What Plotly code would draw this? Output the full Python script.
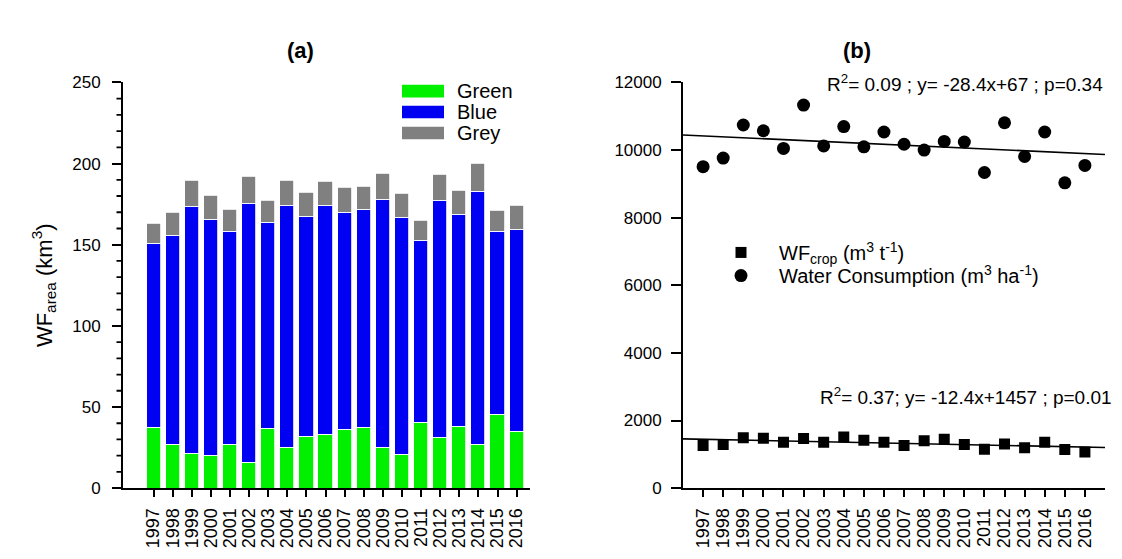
import numpy as np
import plotly.graph_objects as go

# ---- data -------------------------------------------------------------
years = list(range(1997, 2017))

# (a) water footprint of the cropped area, km3
green = [37.5, 27.0, 21.4, 20.0, 27.0, 16.1, 36.7, 25.0, 32.0, 33.0,
         36.1, 37.3, 25.0, 20.8, 40.3, 31.4, 38.3, 27.0, 45.2, 34.7]
blue = [113.5, 129.0, 152.2, 145.3, 131.1, 159.1, 127.0, 149.2, 135.7, 141.2,
        134.1, 134.3, 153.2, 145.9, 112.5, 146.2, 130.4, 156.1, 112.7, 125.0]
grey = [11.9, 14.2, 15.9, 15.1, 13.5, 16.7, 13.9, 15.3, 14.3, 14.9,
        15.3, 14.3, 15.7, 15.0, 12.3, 15.7, 14.8, 17.3, 13.1, 14.5]

# (b) unit water footprint (m3/t) and water consumption (m3/ha)
wf_crop = [1261, 1289, 1494, 1474, 1355, 1466, 1355, 1510, 1419, 1355,
           1261, 1400, 1447, 1289, 1151, 1308, 1198, 1355, 1143, 1068]
water_cons = [9507, 9763, 10741, 10570, 10048, 11330, 10123, 10693, 10095, 10533,
              10171, 10000, 10256, 10237, 9336, 10807, 9809, 10533, 9031, 9544]

year_labels = [str(y) for y in years]
left_minor_ticks = [v for v in range(0, 251, 10) if v % 50 != 0]

# ---- styling ------------------------------------------------------------
FONT = "Liberation Sans, Arial, sans-serif"
C_GREEN = "#00F000"
C_BLUE = "#0000F2"
C_GREY = "#808080"
W, H = 1122, 559


def px_x(p):
    return p / W


def px_y(p):
    return 1 - p / H


fig = go.Figure()

# stacked bars (a)
for name, vals, col in [("Green", green, C_GREEN), ("Blue", blue, C_BLUE), ("Grey", grey, C_GREY)]:
    fig.add_trace(go.Bar(
        x=years, y=vals, name=name, width=0.74,
        marker=dict(color=col, line=dict(color="white", width=0.8)),
        xaxis="x", yaxis="y", showlegend=False,
    ))

# linear trends (b), fitted on the year index
x_fit = np.array([1996.0, 2017.0])
for series in (water_cons, wf_crop):
    k, b = np.polyfit(np.array(years, dtype=float), np.array(series, dtype=float), 1)
    fig.add_trace(go.Scatter(
        x=x_fit, y=k * x_fit + b, mode="lines",
        line=dict(color="black", width=1.6),
        xaxis="x2", yaxis="y2", showlegend=False, hoverinfo="skip",
    ))

fig.add_trace(go.Scatter(
    x=years, y=wf_crop, mode="markers", name="WF<sub>crop</sub> (m<sup>3</sup> t<sup>-1</sup>)",
    marker=dict(symbol="square", size=11, color="black"),
    xaxis="x2", yaxis="y2", legend="legend2",
))
fig.add_trace(go.Scatter(
    x=years, y=water_cons, mode="markers", name="Water Consumption (m<sup>3</sup> ha<sup>-1</sup>)",
    marker=dict(symbol="circle", size=13, color="black"),
    xaxis="x2", yaxis="y2", legend="legend3",
))

axis_common = dict(
    showline=True, linecolor="black", linewidth=1.8,
    ticks="outside", tickcolor="black", tickwidth=1.8,
    showgrid=False, zeroline=False, mirror=False,
)

legend_common = dict(
    xanchor="left", yanchor="middle", bgcolor="rgba(0,0,0,0)",
    font=dict(size=20), itemwidth=66,
)

fig.update_layout(
    width=W, height=H,
    margin=dict(l=0, r=0, t=0, b=0),
    paper_bgcolor="white", plot_bgcolor="white",
    font=dict(family=FONT, color="black", size=17),
    barmode="stack", bargap=0,
    xaxis=dict(
        domain=[px_x(123), px_x(530)], range=[1995.4, 2016.7],
        tickvals=years, ticktext=year_labels, tickangle=-90, ticklen=7,
        tickfont=dict(size=18), ticklabelstandoff=4, anchor="y",
        **axis_common,
    ),
    yaxis=dict(
        domain=[px_y(496), px_y(76)], range=[0, 250],
        tickmode="linear", tick0=0, dtick=50, ticklen=9, tickfont=dict(size=17),
        ticklabelstandoff=8, anchor="x",
        title=dict(text="WF<sub>area</sub> (km<sup>3</sup>)", font=dict(size=22), standoff=14),
        **axis_common,
    ),
    xaxis2=dict(
        domain=[px_x(683), px_x(1105)], range=[1996, 2017],
        tickvals=years, ticktext=year_labels, tickangle=-90, ticklen=7,
        tickfont=dict(size=18), ticklabelstandoff=4, anchor="y2",
        **axis_common,
    ),
    yaxis2=dict(
        domain=[px_y(496), px_y(76)], range=[0, 12000],
        tickmode="linear", tick0=0, dtick=2000, tickformat="d",
        ticklen=10, tickfont=dict(size=17), ticklabelstandoff=6, anchor="x2",
        **axis_common,
    ),
    legend2=dict(x=px_x(703), y=px_y(252), **legend_common),
    legend3=dict(x=px_x(703), y=px_y(276), **legend_common),
)

# minor ticks every 10 km3 on the left value axis
for v in left_minor_ticks:
    fig.add_shape(type="line", xref="paper", yref="y",
                  x0=px_x(116.5), x1=px_x(122.5), y0=v, y1=v,
                  line=dict(color="black", width=1.8))

# legend for the stacked bars
for i, (name, col) in enumerate([("Green", C_GREEN), ("Blue", C_BLUE), ("Grey", C_GREY)]):
    yc = 85 + i * 21.7
    fig.add_shape(type="rect", xref="paper", yref="paper",
                  x0=px_x(402), x1=px_x(444), y0=px_y(yc + 6.5), y1=px_y(yc - 6.5),
                  fillcolor=col, line=dict(width=0))
    fig.add_annotation(text=name, xref="paper", yref="paper", x=px_x(455), y=px_y(yc),
                       xanchor="left", yanchor="middle", showarrow=False, font=dict(size=20))

# panel labels
fig.add_annotation(text="<b>(a)</b>", xref="paper", yref="paper", x=px_x(300), y=px_y(43),
                   xanchor="center", yanchor="middle", showarrow=False, font=dict(size=22))
fig.add_annotation(text="<b>(b)</b>", xref="paper", yref="paper", x=px_x(857), y=px_y(43),
                   xanchor="center", yanchor="middle", showarrow=False, font=dict(size=22))

# regression statistics
fig.add_annotation(text="R<sup>2</sup>= 0.09 ; y= -28.4x+67 ; p=0.34", xref="paper", yref="paper",
                   x=px_x(1105), y=px_y(77), xanchor="right", yanchor="middle",
                   showarrow=False, font=dict(size=19))
fig.add_annotation(text="R<sup>2</sup>= 0.37; y= -12.4x+1457 ; p=0.01", xref="paper", yref="paper",
                   x=px_x(1114), y=px_y(401), xanchor="right", yanchor="middle",
                   showarrow=False, font=dict(size=19))

fig.write_html("out.html")
